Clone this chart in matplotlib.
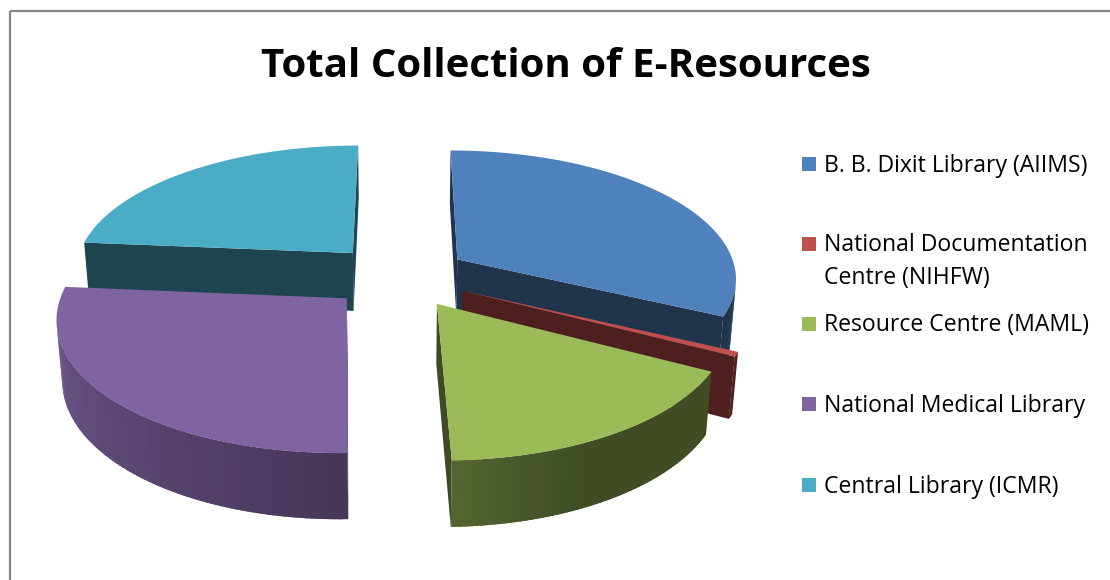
import numpy as np
import matplotlib
matplotlib.use("Agg")
import matplotlib.pyplot as plt
from matplotlib.patches import Polygon, Rectangle
from matplotlib.colors import to_rgb

# ---- data -------------------------------------------------------------
labels = [
    "B. B. Dixit Library (AIIMS)",
    "National Documentation\nCentre (NIHFW)",
    "Resource Centre (MAML)",
    "National Medical Library",
    "Central Library (ICMR)",
]
values = [32.2, 0.56, 16.8, 26.8, 23.6]
colors = ["#4F81BD", "#C0504D", "#9BBB59", "#8064A2", "#4BACC6"]
title = "Total Collection of E-Resources"

# ---- 3-D pie geometry / camera ---------------------------------------
W, H = 1110, 580
theta = np.radians(27.1)           # viewing elevation
cam_d = 6.675                      # camera distance (in pie radii)
focal = 1869.0                     # pixels
cx, cy = 399.0, 276.0              # screen position of the pie centre
thick = 0.24                       # pie thickness (in radii)
explode = 0.25                     # explosion offset (in radii)
st, ct = np.sin(theta), np.cos(theta)
cam = np.array([0.0, -cam_d * ct, cam_d * st])


def project(p):
    x, y, z = p
    yc = y * st + z * ct
    zd = cam_d + y * ct - z * st
    return (cx + focal * x / zd, cy - focal * yc / zd)


def depth(p):
    x, y, z = p
    return cam_d + y * ct - z * st


def facing(p, n):
    return np.dot(cam - np.asarray(p), np.asarray(n)) > 0


def shade(rgb, k):
    return tuple(np.clip(np.array(rgb) * k, 0, 1))


def wall_factor(phi_deg):
    a = phi_deg % 360.0
    return float(np.interp(a, [0, 180, 270, 295, 360],
                           [0.41, 0.88, 0.55, 0.41, 0.41]))


def rim(off, phi, z=0.0):
    return off + np.array([np.cos(phi), np.sin(phi), z])


fig = plt.figure(figsize=(W / 100, H / 100), dpi=100)
ax = fig.add_axes([0, 0, 1, 1])
ax.set_xlim(0, W)
ax.set_ylim(H, 0)
ax.axis("off")

# chart frame (left and top edges)
ax.plot([10, 10], [H + 5, 11], color="#868686", lw=1.6, solid_capstyle="butt")
ax.plot([10, W + 5], [11, 11], color="#868686", lw=1.6, solid_capstyle="butt")

fracs = np.array(values) / np.sum(values)
starts = 90.0 - 360.0 * np.concatenate([[0], np.cumsum(fracs)[:-1]])
ends = starts - 360.0 * fracs

slices = []
for i in range(len(values)):
    a1, a2 = starts[i], ends[i]
    mid = np.radians((a1 + a2) / 2)
    off = np.array([explode * np.cos(mid), explode * np.sin(mid), 0.0])
    slices.append((depth(off), i, a1, a2, off))

# paint from the far slice to the near one
slices.sort(key=lambda s: -s[0])

for _, i, a1, a2, off in slices:
    base = to_rgb(colors[i])
    faces = []
    n_arc = max(int(abs(a1 - a2) / 1.0) + 2, 3)
    phis = np.radians(np.linspace(a1, a2, n_arc))
    step = phis[1] - phis[0]

    # radial faces
    for ang, nang in ((a1, a1 + 90), (a2, a2 - 90)):
        r = np.radians(ang)
        nr = np.radians(nang)
        n = (np.cos(nr), np.sin(nr), 0.0)
        q = rim(off, r)
        if facing(off + (q - off) * 0.5, n):
            pts = [off, q, q - [0, 0, thick], off - [0, 0, thick]]
            faces.append((shade(base, 0.4), [project(p) for p in pts]))

    # outer curved wall, in thin overlapping strips
    for k in range(len(phis) - 1):
        p0, p1 = phis[k], phis[k + 1]
        pm = 0.5 * (p0 + p1)
        n = (np.cos(pm), np.sin(pm), 0.0)
        if facing(rim(off, pm, -thick / 2), n):
            p1x = p1 + 0.8 * step if k < len(phis) - 2 else p1
            seg = np.linspace(p0, p1x, 4)
            upper = [rim(off, p) for p in seg]
            lower = [rim(off, p, -thick) for p in seg[::-1]]
            faces.append((shade(base, wall_factor(np.degrees(pm))),
                          [project(p) for p in upper + lower]))

    # top face
    top = [off] + [rim(off, p) for p in phis]
    faces.append((base, [project(p) for p in top]))

    for col, pts in faces:
        ax.add_patch(Polygon(pts, closed=True, facecolor=col,
                             edgecolor="none", lw=0))

# ---- title -----------------------------------------------------------
ax.text(566, 77, title, ha="center", va="baseline", fontsize=29,
        fontweight="bold", family="Open Sans", color="black")

# ---- legend ----------------------------------------------------------
baselines = [171.7, 251, 331, 411.7, 492.7]
line_pitch = 33
for lab, col, yb in zip(labels, colors, baselines):
    ax.add_patch(Rectangle((802, yb - 14.5), 14, 14, facecolor=col,
                           edgecolor="none"))
    for j, line in enumerate(lab.split("\n")):
        ax.text(824, yb + j * line_pitch, line, ha="left", va="baseline",
                fontsize=16.6, family="Open Sans", color="black")

fig.savefig("out.png", dpi=100)
